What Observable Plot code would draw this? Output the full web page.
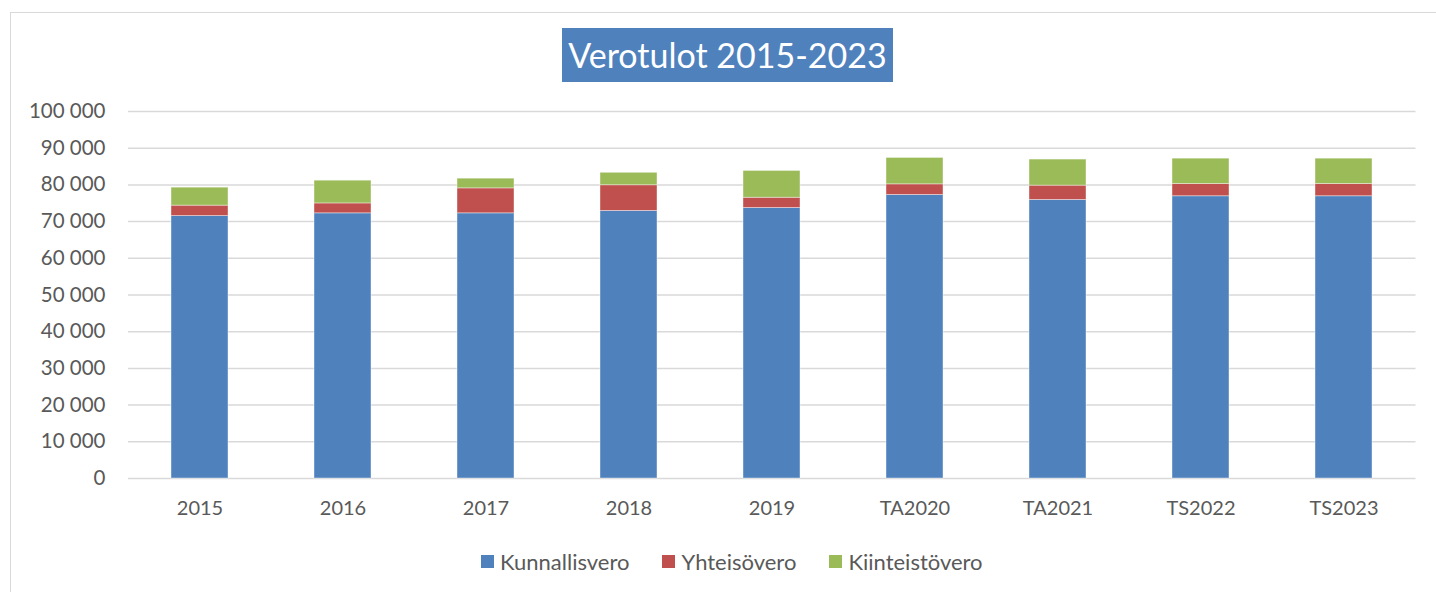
<!DOCTYPE html>
<html>
<head>
<meta charset="utf-8">
<script src="https://cdn.jsdelivr.net/npm/d3@7"></script>
<script src="https://cdn.jsdelivr.net/npm/@observablehq/plot@0.6"></script>
<style>
  html, body { margin: 0; padding: 0; background: #fff; }
  body { width: 1436px; height: 592px; position: relative; overflow: hidden; font-family: Lato, "Open Sans", sans-serif; }
  #frame { position: absolute; left: 10px; top: 12px; width: 1440px; height: 600px; border: 1px solid #d9d9d9; box-sizing: border-box; }
  #title { position: absolute; left: 562px; top: 28px; width: 331px; height: 54px; background: #4f81bd; color: #fff; font-size: 34px; line-height: 54px; text-align: center; }
  #chart { position: absolute; left: 0; top: 90px; }
  #legend { position: absolute; top: 548px; left: 481px; display: flex; gap: 33px; font-size: 22px; color: #595959; white-space: nowrap; }
  #legend span.item { display: inline-flex; align-items: center; }
  #legend span.sw { display: inline-block; width: 13px; height: 13px; margin-right: 6px; }
</style>
</head>
<body>
<div id="frame"></div>
<div id="title">Verotulot 2015-2023</div>
<div id="chart"></div>
<div id="legend"></div>
<script>
const categories = ["2015", "2016", "2017", "2018", "2019", "TA2020", "TA2021", "TS2022", "TS2023"];
const seriesNames = ["Kunnallisvero", "Yhteisövero", "Kiinteistövero"];
const seriesColors = ["#4f81bd", "#c0504d", "#9bbb59"];
const kunnallisvero = [71500, 72250, 72250, 72900, 73700, 77250, 75900, 76900, 76900];
const yhteisovero   = [2850, 2700, 6800, 7000, 2800, 2900, 3900, 3350, 3350];
const kiinteistovero = [4900, 6200, 2650, 3400, 7300, 7200, 7100, 6900, 6900];
const yTicks = [0, 10000, 20000, 30000, 40000, 50000, 60000, 70000, 80000, 90000, 100000];

const seriesValues = [kunnallisvero, yhteisovero, kiinteistovero];
const rows = [];
seriesNames.forEach((s, si) => {
  categories.forEach((c, ci) => rows.push({category: c, series: s, order: si, value: seriesValues[si][ci]}));
});

const fmt = d3.formatLocale({thousands: " ", grouping: [3], decimal: ","}).format(",");

const chart = Plot.plot({
  width: 1436,
  height: 440,
  marginLeft: 128,
  marginRight: 20.5,
  marginTop: 21,
  marginBottom: 52,
  style: {fontFamily: "Lato, 'Open Sans', sans-serif", fontSize: "20px", color: "#595959", background: "transparent"},
  x: {domain: categories, paddingInner: 0.6, paddingOuter: 0.3, label: null, tickSize: 0, tickPadding: 22},
  y: {domain: [0, 100000], ticks: yTicks, tickFormat: fmt, label: null, tickSize: 0, tickPadding: 23},
  color: {domain: seriesNames, range: seriesColors},
  marks: [
    Plot.ruleY(yTicks, {stroke: "#d9d9d9", strokeWidth: 1.5}),
    Plot.barY(rows, Plot.stackY({order: "order"}, {x: "category", y: "value", fill: "series", z: "series", stroke: "#ffffff", strokeOpacity: 0.5, strokeWidth: 0.8})),
    Plot.axisX({tickSize: 0, tickPadding: 22, fontSize: 20}),
    Plot.axisY({ticks: yTicks, tickFormat: fmt, tickSize: 0, tickPadding: 23, fontSize: 20.5})
  ]
});
document.getElementById("chart").appendChild(chart);

const legend = document.getElementById("legend");
seriesNames.forEach((s, i) => {
  const item = document.createElement("span");
  item.className = "item";
  const sw = document.createElement("span");
  sw.className = "sw";
  sw.style.background = seriesColors[i];
  item.appendChild(sw);
  item.appendChild(document.createTextNode(s));
  legend.appendChild(item);
});
</script>
</body>
</html>
